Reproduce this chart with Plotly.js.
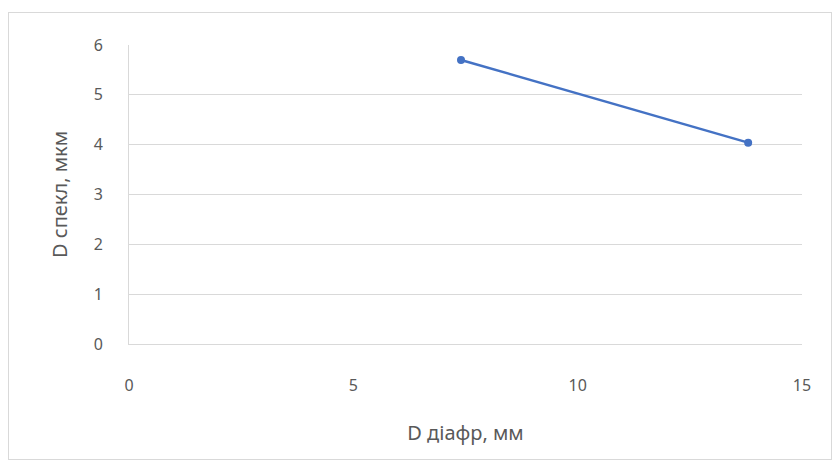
<!DOCTYPE html>
<html>
<head>
<meta charset="utf-8">
<script src="https://cdn.plot.ly/plotly-3.0.1.min.js"></script>
<style>
  html, body { margin:0; padding:0; background:#fff; }
  #chart { position:absolute; left:0; top:0; width:833px; height:461px; }
  #frame { position:absolute; left:8px; top:12px; width:822px; height:446px; border:1px solid #d9d9d9; pointer-events:none; }
</style>
</head>
<body>
<div id="chart"></div>
<div id="frame"></div>
<script>
const diaphragmDiameter = [7.4, 13.8];
const speckleDiameter = [5.7, 4.04];
const xTickValues = [0, 5, 10, 15];
const yTickValues = [0, 1, 2, 3, 4, 5, 6];
const xTitle = "D діафр, мм";
const yTitle = "D спекл, мкм";

const trace = {
  x: diaphragmDiameter,
  y: speckleDiameter,
  type: "scatter",
  mode: "lines+markers",
  line: { color: "#4472C4", width: 2.5 },
  marker: { color: "#4472C4", size: 8 },
  showlegend: false
};

const tickFont = { family: "Noto Sans, sans-serif", size: 16, color: "#595959" };
const titleFont = { family: "Noto Sans, sans-serif", size: 20, color: "#595959" };

const layout = {
  width: 833, height: 461,
  margin: { l: 129, r: 31, t: 45, b: 117 },
  paper_bgcolor: "#fff", plot_bgcolor: "#fff",
  font: tickFont,
  xaxis: {
    range: [0, 15], tickvals: xTickValues, ticktext: xTickValues.map(String),
    showgrid: false, zeroline: false, showline: true, linecolor: "#d9d9d9", linewidth: 1,
    ticks: "", ticklabelstandoff: 27, tickfont: tickFont,
    title: { text: xTitle, font: titleFont, standoff: 30 }
  },
  yaxis: {
    range: [0, 6], tickvals: yTickValues, ticktext: yTickValues.map(String),
    showgrid: true, gridcolor: "#d9d9d9", gridwidth: 1, zeroline: false,
    showline: true, linecolor: "#d9d9d9", linewidth: 1,
    ticks: "", ticklabelstandoff: 22, tickfont: tickFont,
    title: { text: yTitle, font: titleFont, standoff: 20 }
  }
};

Plotly.newPlot("chart", [trace], layout, { displayModeBar: false, staticPlot: true });
</script>
</body>
</html>
